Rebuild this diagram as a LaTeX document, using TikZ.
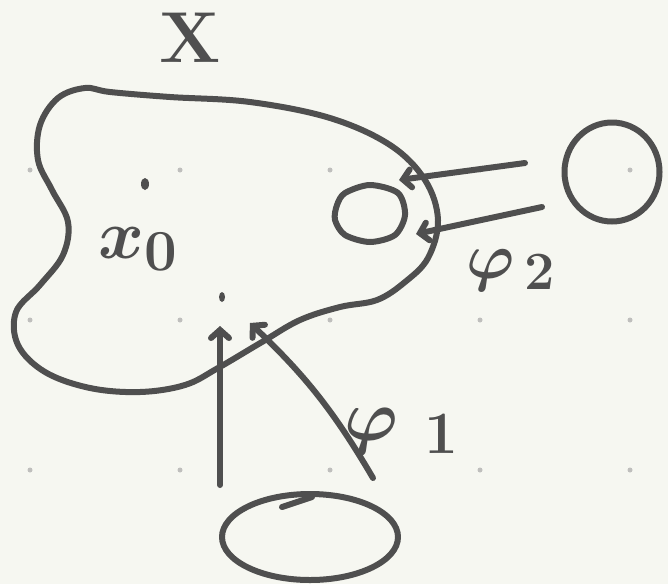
\documentclass[tikz,border=0pt]{standalone}
\usepackage{graphicx}
\usepackage{xcolor}
\definecolor{paper}{rgb}{0.965,0.968,0.945}
\definecolor{ink}{rgb}{0.31,0.31,0.31}
\definecolor{gridgray}{rgb}{0.75,0.75,0.74}
\usepackage{tikz}
\usetikzlibrary{arrows.meta, shapes.geometric, positioning}
\newcommand{\bigmark}[2]{\scalebox{#1}{\Huge\boldmath #2}}

\begin{document}
\begin{tikzpicture}[
  x=1pt, y=-1pt,
  pen/.style={draw=ink, line width=6pt, line cap=round, line join=round},
  blob/.style={pen, ellipse, inner sep=0pt},
  flow/.style={pen, -{Straight Barb[length=8pt, width=18pt, line cap=round]}},
  lbl/.style={text=ink, inner sep=0pt, anchor=base west},
  gdot/.style={fill=gridgray}
]
\useasboundingbox[fill=paper] (0,0) rectangle (668,584);
\foreach \gx in {30,180,...,630}
  \foreach \gy in {170,320,470}
    \fill[gdot] (\gx,\gy) circle (2.5);
% the region X
\draw[pen, tension=0.6] plot[smooth cycle] coordinates {
  (40,125) (58,98) (85,88) (110,92) (170,97) (250,102) (330,118) (390,145)
  (425,180) (438,220) (428,258) (405,282) (377,300) (340,307) (300,320)
  (262,342) (218,368) (185,385) (140,392) (90,388) (45,372) (18,345)
  (16,312) (40,285) (63,255) (68,222) (52,190) (38,160)};
% hole inside X
\draw[pen, tension=0.5] plot[smooth cycle] coordinates {
  (337,205) (345,193) (370,185) (398,193) (405,215) (395,235) (370,242)
  (345,235) (335,220)};
\fill[ink] (145,184) ellipse (4 and 6);
\fill[ink] (222,297) ellipse (3 and 5);
% outside pieces
\node[blob, minimum width=95pt, minimum height=99pt] (ball) at (612,172) {};
\node[blob, minimum width=176pt, minimum height=86pt] (pool) at (310,537) {};
\draw[pen] (282,507) -- (312,497);
% labels
\node[lbl, anchor=center] (xname) at (190,38) {\bigmark{2.9}{\bfseries X}};
\node[lbl] (xzero) at (98,258) {\bigmark{2.8}{$x_0$}};
\node[lbl] (phitwo) at (466,278) {\bigmark{2.6}{$\varphi_{\,2}$}};
\node[lbl] (phione) at (344,440) {\bigmark{2.9}{$\varphi_{\hspace{9pt}1}$}};
% the two maps
\coordinate (b1) at (525,163);
\coordinate (e1) at (399,180);
\coordinate (b2) at (542,207);
\coordinate (e2) at (416,234);
\coordinate (b3) at (220,485);
\coordinate (e3) at (220,326);
\coordinate (b4) at (373,478);
\coordinate (e4) at (250,323);
\draw[flow] (b1) -- (e1);
\draw[flow] (b2) -- (e2);
\draw[flow] (b3) -- (e3);
\draw[flow] (b4) to[bend right=8] (e4);
\end{tikzpicture}
\end{document}
